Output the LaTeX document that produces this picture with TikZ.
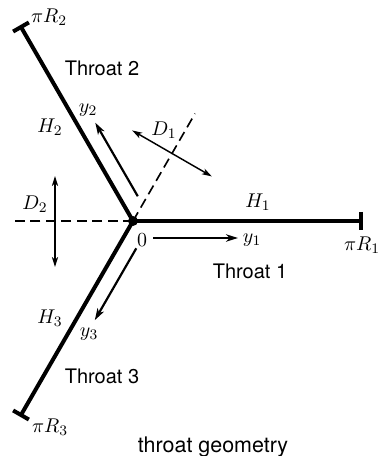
\documentclass[tikz,border=0pt]{standalone}
\usepackage{fontspec}
\setsansfont{TeX Gyre Heros}
\usetikzlibrary{calc,arrows.meta,positioning}
\tikzstyle{hub}=[draw,fill=black,circle,minimum size=5pt,inner sep=0pt]
\tikzstyle{throat}=[line width=2.2pt,-{Bar[width=10pt]}]
\tikzstyle{guide}=[line width=0.9pt,dash pattern=on 5.5pt off 3pt]
\tikzstyle{axis}=[line width=1.2pt,-{Stealth[length=6.5pt,width=4pt,inset=1.8pt]}]
\tikzstyle{span}=[line width=0.8pt,{Stealth[length=5.5pt,width=3.4pt,inset=1.5pt]}-{Stealth[length=5.5pt,width=3.4pt,inset=1.5pt]}]

\begin{document}
\begin{tikzpicture}[x=0.55pt,y=0.55pt,font=\sffamily\fontsize{11}{13}\selectfont,inner sep=1pt]
\useasboundingbox (-133,-235) rectangle (247,221);
% junction and the three throats
\coordinate (o) at (0,0);
\coordinate (e1) at (0:230);
\coordinate (e2) at (120:226);
\coordinate (e3) at (240:226);
\draw [guide] (o) -- (180:123);
\draw [guide] (o) -- (60:124);
\draw [throat] (o) -- (e1);
\draw [throat] (o) -- (e2);
\draw [throat] (o) -- (e3);
\node [hub] (hub) at (o) {};
% local coordinates along each throat
\coordinate (a1) at (20,-17);
\coordinate (b1) at (105,-17);
\coordinate (a2) at ($(120:19)+(30:16.5)$);
\coordinate (b2) at ($(120:104)+(30:16.5)$);
\coordinate (a3) at ($(240:22)+(-30:16.5)$);
\coordinate (b3) at ($(240:105)+(-30:16.5)$);
\draw [axis] (a1) -- (b1);
\draw [axis] (a2) -- (b2);
\draw [axis] (a3) -- (b3);
% widths
\coordinate (d2a) at (-78,45);
\coordinate (d2b) at (-78,-46);
\coordinate (d1a) at ($(60:78)+(150:46)$);
\coordinate (d1b) at ($(60:78)+(-30:46)$);
\draw [span] (d2a) -- (d2b);
\draw [span] (d1a) -- (d1b);
% labels
\node (zero) at (9,-19) {$0$};
\node (ly1) at (119,-19) {$y_1$};
\node (ly2) at (-45,111) {$y_2$};
\node (ly3) at (-44,-113) {$y_3$};
\node (lh1) at (125,19) {$H_1$};
\node (lh2) at (-83,94) {$H_2$};
\node (lh3) at (-83,-97) {$H_3$};
\node (ld1) at (31,91) {$D_1$};
\node (ld2) at (-98,17) {$D_2$};
\node (lr1) at (229,-24) {$\pi R_1$};
\node (lr2) at (-84,204) {$\pi R_2$};
\node (lr3) at (-83,-206) {$\pi R_3$};
\node (t1) at (117,-50) {Throat 1};
\node (t2) at (-31,153) {Throat 2};
\node (t3) at (-31,-155) {Throat 3};
\node (cap) at (80,-226) {\fontsize{11.8}{14}\selectfont throat geometry};
\end{tikzpicture}
\end{document}
